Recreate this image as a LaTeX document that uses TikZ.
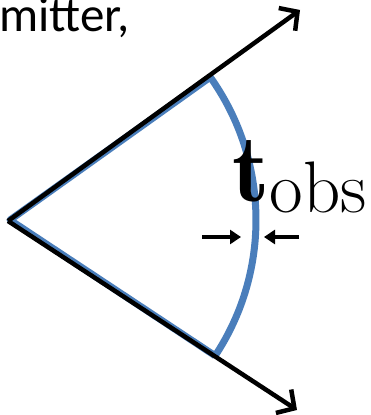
\documentclass[tikz,border=0pt]{standalone}
\usepackage{fontspec}
\newfontfamily\calib{Carlito}
\usetikzlibrary{arrows.meta,calc}
\definecolor{arcblue}{RGB}{74,126,187}
\tikzset{
  ray/.style={line width=4.5pt,-{Straight Barb[length=13pt,width=28pt,line width=4.5pt]}},
  sector/.style={arcblue,line width=7pt},
  marker/.style={line width=4pt,-{Triangle[length=11pt,width=14pt]}}
}
\begin{document}
\begin{tikzpicture}[x=1pt,y=1pt]
\useasboundingbox (0,0) rectangle (370,415);
\clip (0,0) rectangle (370,415);
\coordinate (A) at (8,194);
\coordinate (C) at (10,195);
\coordinate (U) at (300,405);
\coordinate (L) at (297,5);
\coordinate (B1) at ($(C)+(35.5:246)$);
\coordinate (B2) at ($(C)+(-33.5:246)$);
% blue sector
\draw[sector,line join=round] (B1) -- (C) -- (B2);
\draw[sector] (B1) arc[start angle=35.5,end angle=-33.5,radius=246];
% black rays
\draw[ray] (A) -- (U);
\draw[ray] (A) -- (L);
% thickness markers
\coordinate (m1s) at (202,178);
\coordinate (m1e) at (241,178);
\coordinate (m2s) at (299,178);
\coordinate (m2e) at (264,178);
\draw[marker] (m1s) -- (m1e);
\draw[marker] (m2s) -- (m2e);
% labels
\node[anchor=base west,inner sep=0pt,font=\calib\fontsize{49}{58}\selectfont] (txt) at (-1,383) {mitter,};
\node[anchor=base west,inner sep=0pt] (tobs) at (232,213)
  {\fontsize{96}{104}\selectfont$\mathbf{t}$\raisebox{-11pt}{\fontsize{73}{80}\selectfont obs}};
\end{tikzpicture}
\end{document}
